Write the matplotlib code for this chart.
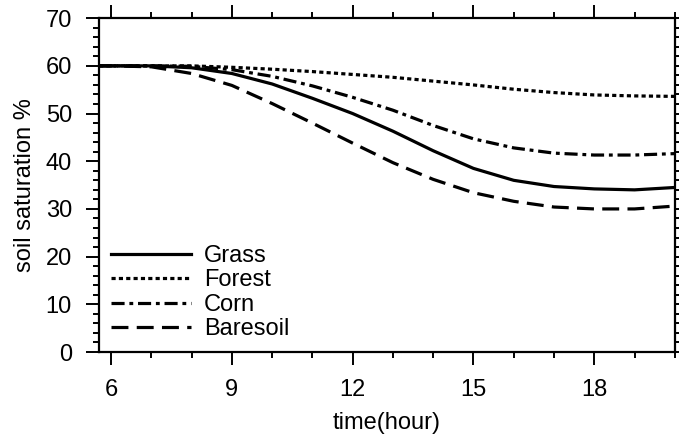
import numpy as np
import matplotlib.pyplot as plt
from matplotlib.ticker import MultipleLocator

plt.rcParams['font.family'] = ['Liberation Sans', 'DejaVu Sans']

# data
time = [5.7, 6, 7, 8, 9, 10, 11, 12, 13, 14, 15, 16, 17, 18, 19, 20]
grass = [60, 60, 60, 59.6, 58.4, 56.2, 53.2, 50.0, 46.3, 42.2, 38.5, 36.0, 34.7, 34.2, 34.0, 34.5]
forest = [60, 60, 60, 60, 59.7, 59.3, 58.8, 58.2, 57.6, 56.8, 56.0, 55.1, 54.4, 53.9, 53.7, 53.6]
corn = [60, 60, 60, 59.9, 59.2, 57.8, 55.8, 53.4, 50.7, 47.5, 44.7, 42.8, 41.7, 41.3, 41.3, 41.6]
baresoil = [60, 60, 59.8, 58.4, 55.9, 52.1, 48.0, 43.8, 39.7, 36.2, 33.4, 31.6, 30.4, 30.0, 30.0, 30.6]

fig = plt.figure(figsize=(6.79, 4.41), dpi=100)
ax = fig.add_axes([0.1458, 0.2018, 0.848, 0.757])

lw = 2.3
ax.plot(time, grass, color='black', lw=lw, label='Grass')
ax.plot(time, forest, color='black', lw=lw, dashes=(1.3, 1.0), label='Forest')
ax.plot(time, corn, color='black', lw=lw, dashes=(4.1, 1.5, 1.2, 1.5), label='Corn')
ax.plot(time, baresoil, color='black', lw=lw, dashes=(5.3, 2.6), label='Baresoil')

ax.set_xlim(5.7, 20)
ax.set_ylim(0, 70)
ax.xaxis.set_major_locator(MultipleLocator(3))
ax.xaxis.set_minor_locator(MultipleLocator(1))
ax.yaxis.set_major_locator(MultipleLocator(10))
ax.yaxis.set_minor_locator(MultipleLocator(2))
ax.tick_params(which='both', direction='out', top=True, right=True,
               width=1.4, labelsize=17)
ax.tick_params(which='major', length=9.5, pad=10)
ax.tick_params(which='minor', length=4.5)
for s in ax.spines.values():
    s.set_linewidth(1.6)

ax.set_xlabel('time(hour)', fontsize=17, labelpad=8)
ax.set_ylabel('soil saturation %', fontsize=17, labelpad=7)

ax.legend(loc='lower left', frameon=False, fontsize=17, handlelength=3.4,
          handletextpad=0.55, labelspacing=0.1, borderpad=0.2,
          borderaxespad=0.3)

plt.savefig('out.png')
